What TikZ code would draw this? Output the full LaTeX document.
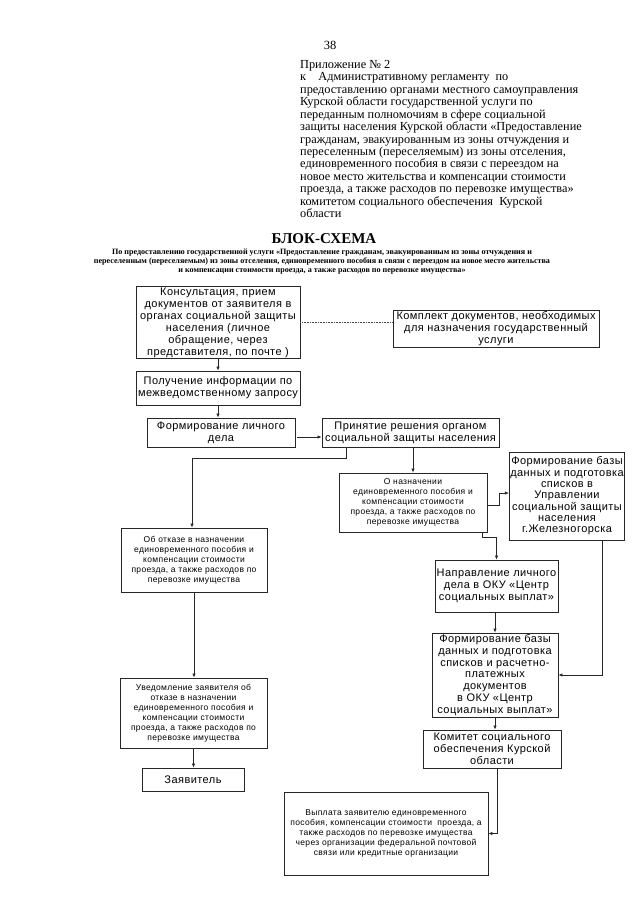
\documentclass[tikz,border=0pt]{standalone}
\usepackage{fontspec}
\setmainfont{Liberation Serif}
\newfontfamily\boxfont[LetterSpace=4]{Liberation Sans}
\usetikzlibrary{arrows.meta,calc}
\tikzset{
  box/.style={draw=black!85, line width=0.7pt, rectangle, inner sep=1pt, align=center, font=\boxfont\fontsize{11}{12}\selectfont},
  sbox/.style={box, font=\boxfont\fontsize{8.5}{10}\selectfont},
  conn/.style={draw=black!85, line width=0.6pt},
  arr/.style={conn, -{Latex[length=4pt,width=3.2pt]}},
  dotline/.style={draw=black!70, line width=0.6pt, densely dotted}
}
\begin{document}
\begin{tikzpicture}[x=1pt,y=-1pt]
\path[fill=white] (0,0) rectangle (640,905);
\useasboundingbox (0,0) rectangle (640,905);

% header
\node[font=\fontsize{12.5}{13}\selectfont] (pagenum) at (330,45) {38};
\node[anchor=north west, inner sep=0pt, align=left, font=\fontsize{12.3}{12.45}\selectfont] (appx) at (300,60) {Приложение № 2\\
к\quad Административному регламенту\ \ по\\
предоставлению органами местного самоуправления\\
Курской области государственной услуги по\\
переданным полномочиям в сфере социальной\\
защиты населения Курской области «Предоставление\\
гражданам, эвакуированным из зоны отчуждения и\\
переселенным (переселяемым) из зоны отселения,\\
единовременного пособия в связи с переездом на\\
новое место жительства и компенсации стоимости\\
проезда, а также расходов по перевозке имущества»\\
комитетом социального обеспечения\ \ Курской\\
области};

\node[font=\bfseries\fontsize{15}{16}\selectfont] (title) at (324,239) {БЛОК-СХЕМА};
\node[align=center, inner sep=0pt, font=\bfseries\fontsize{8.1}{9}\selectfont] (subtitle) at (322,262) {По предоставлению государственной услуги «Предоставление гражданам, эвакуированным из зоны отчуждения и\\
переселенным (переселяемым) из зоны отселения, единовременного пособия в связи с переездом на новое место жительства\\
и компенсации стоимости проезда, а также расходов по перевозке имущества»};

% boxes
\node[box, minimum width=164pt, minimum height=69pt] (b1) at (218,322.5) {Консультация, прием\\документов от заявителя в\\органах социальной защиты\\населения (личное\\обращение, через\\представителя, по почте )};
\node[box, minimum width=206pt, minimum height=32pt] (kompl) at (496,329) {Комплект документов, необходимых\\для назначения государственный\\услуги};
\node[box, minimum width=164pt, minimum height=34pt] (b2) at (218,388) {Получение информации по\\межведомственному запросу};
\node[box, minimum width=148pt, minimum height=29pt] (b3) at (221,432.5) {Формирование личного\\дела};
\node[box, minimum width=177pt, minimum height=29pt] (b4) at (410.5,432.5) {Принятие решения органом\\социальной защиты населения};
\node[sbox, minimum width=148pt, minimum height=59pt] (nazn) at (413,502.5) {О назначении\\единовременного пособия и\\компенсации стоимости\\проезда, а также расходов по\\перевозке имущества};
\node[box, minimum width=112pt, minimum height=88pt, font=\boxfont\fontsize{11}{11.3}\selectfont] (fbaza) at (567,496) {Формирование базы\\данных и подготовка\\списков в\\Управлении\\социальной защиты\\населения\\г.Железногорска};
\node[sbox, minimum width=146pt, minimum height=64pt] (otkaz) at (194,560) {Об отказе в назначении\\единовременного пособия и\\компенсации стоимости\\проезда, а также расходов по\\перевозке имущества};
\node[box, minimum width=123pt, minimum height=52pt] (naprav) at (496.5,586) {Направление личного\\дела в ОКУ «Центр\\социальных выплат»};
\node[box, minimum width=126pt, minimum height=84pt, font=\boxfont\fontsize{11}{11.8}\selectfont] (foku) at (495,675) {Формирование базы\\данных и подготовка\\списков и расчетно-\\платежных\\документов\\в ОКУ «Центр\\социальных выплат»};
\node[box, minimum width=138pt, minimum height=38pt] (komitet) at (492,749) {Комитет социального\\обеспечения Курской\\области};
\node[sbox, minimum width=147pt, minimum height=70pt] (uved) at (193.5,713) {Уведомление заявителя об\\отказе в назначении\\единовременного пособия и\\компенсации стоимости\\проезда, а также расходов по\\перевозке имущества};
\node[box, minimum width=102pt, minimum height=23pt] (zayav) at (193,779.5) {Заявитель};
\node[sbox, minimum width=204pt, minimum height=83pt] (vypl) at (386,833.5) {Выплата заявителю единовременного\\пособия, компенсации стоимости\ \ проезда, а\\также расходов по перевозке имущества\\через организации федеральной почтовой\\связи или кредитные организации};

% connectors
\draw[dotline] (b1.east) -- (b1.east -| kompl.west);
\draw[arr] (b1.south) -- (b2.north);
\draw[arr] (b2.south) -- (b2.south |- b3.north);
\draw[arr] ([xshift=2pt,yshift=-4.5pt]b3.east) -- ([yshift=-4.5pt]b4.west);
\draw[arr] ([xshift=25pt]b4.south west) -- ++(0,-11pt) -| ([xshift=-2pt]otkaz.north);
\draw[arr] (nazn.north |- b4.south) -- (nazn.north);
\draw[arr] ([yshift=-3pt]nazn.east) -- ++(12pt,0) |- ([yshift=3pt]fbaza.west);
\draw[arr] ([xshift=-5pt]nazn.south east) -- ++(0,-5pt) -| (naprav.north);
\draw[arr] ([xshift=-23pt]fbaza.south east) |- (foku.east);
\draw[arr] (naprav.south -| foku.north) -- (foku.north);
\draw[arr] (foku.south) -- (foku.south |- komitet.north);
\draw[arr] ([xshift=5pt]komitet.south) |- (vypl.east);
\draw[arr] (otkaz.south) -- (otkaz.south |- uved.north);
\draw[arr] (uved.south) -- (uved.south |- zayav.north);
\end{tikzpicture}
\end{document}
